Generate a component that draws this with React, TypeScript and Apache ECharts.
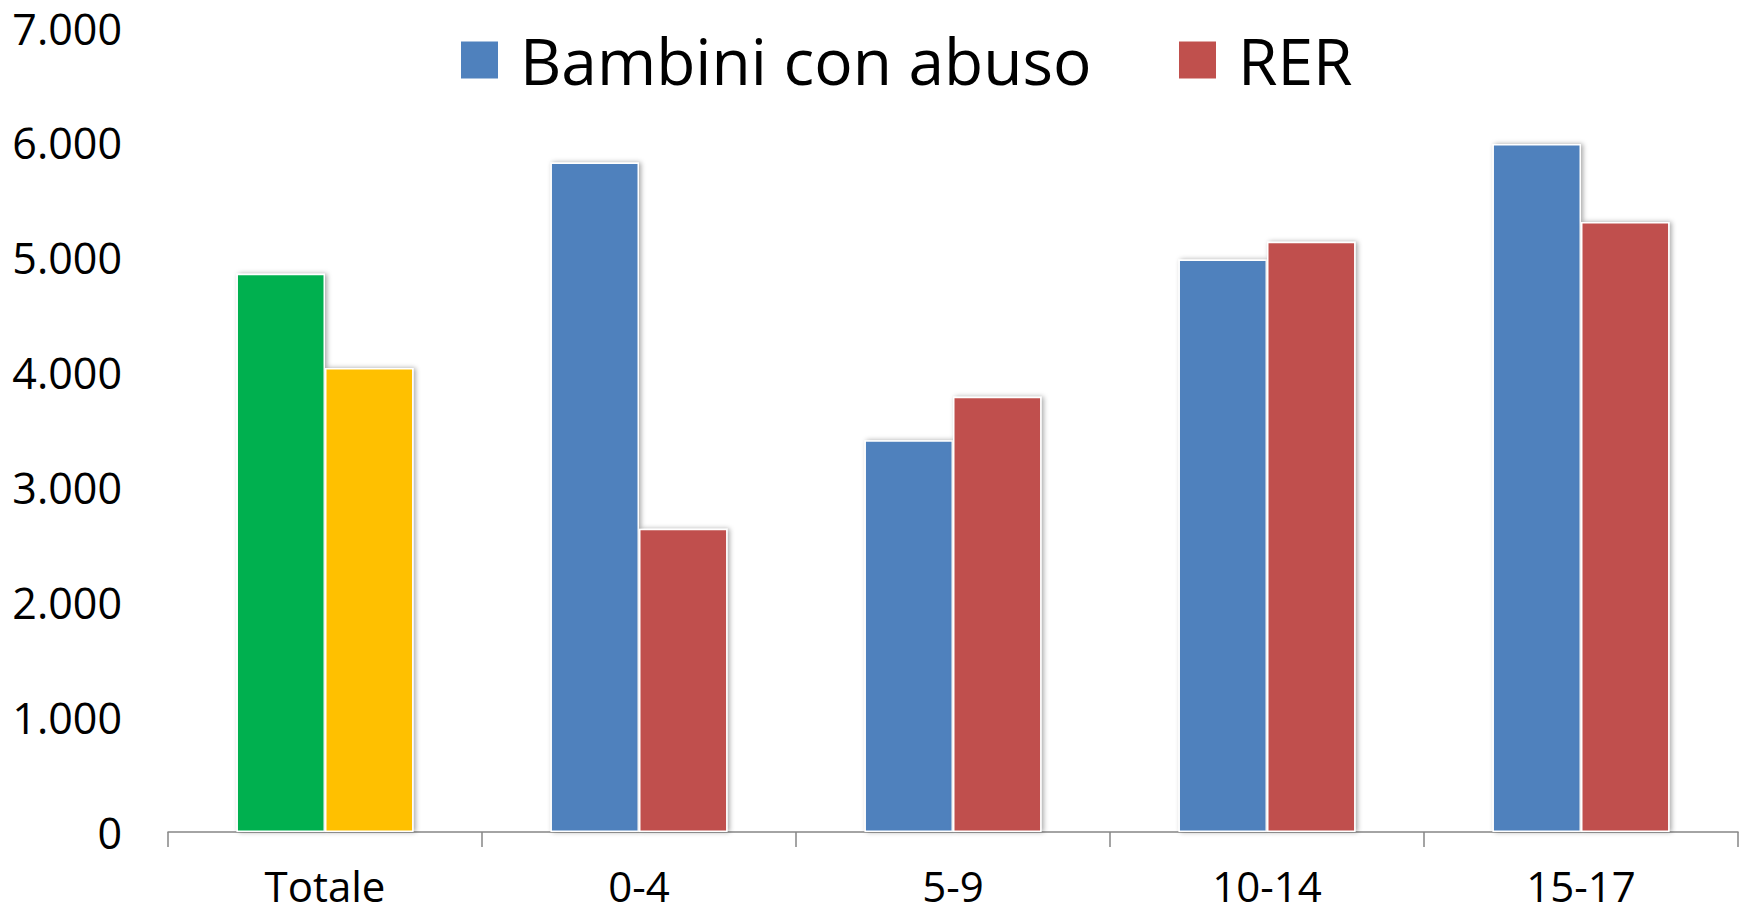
import React, { useEffect, useRef } from "react";
import * as echarts from "echarts";

const categories = ["Totale", "0-4", "5-9", "10-14", "15-17"];
const bambiniValues = [4860, 5830, 3410, 4985, 5990];
const rerValues = [4040, 2640, 3790, 5140, 5310];
const yTicks = [0, 1000, 2000, 3000, 4000, 5000, 6000, 7000];

const BLUE = "#4F81BD";
const RED = "#C0504D";
const GREEN = "#00B050";
const YELLOW = "#FFC000";
const FONT = "'Open Sans', sans-serif";

const fmt = (v: number) => String(v).replace(/\B(?=(\d{3})+(?!\d))/g, ".");

export default function App() {
  const ref = useRef<HTMLDivElement>(null);
  useEffect(() => {
    document.body.style.margin = "0";
    const chart = echarts.init(ref.current!, null, { renderer: "svg" });
    const barStyle = {
      borderColor: "#ffffff",
      borderWidth: 1.5,
      shadowBlur: 5,
      shadowColor: "rgba(0,0,0,0.35)",
      shadowOffsetX: 2,
      shadowOffsetY: 0,
    };
    const legendCommon = {
      top: 20,
      itemWidth: 39,
      itemHeight: 39,
      padding: 0,
      icon: "rect",
      selectedMode: false,
      textStyle: {
        fontSize: 64,
        lineHeight: 64,
        fontFamily: FONT,
        color: "#000",
        padding: [0, 0, 16, 16],
      },
    };
    chart.setOption({
      animation: false,
      backgroundColor: "#ffffff",
      legend: [
        { ...legendCommon, left: 459, data: ["Bambini con abuso"] },
        { ...legendCommon, left: 1177, data: ["RER"] },
      ],
      grid: { left: 168, right: 7, top: 28, bottom: 82, containLabel: false },
      xAxis: {
        type: "category",
        data: categories,
        axisLine: { show: true, lineStyle: { color: "#868686", width: 1.5 } },
        axisTick: {
          show: true,
          interval: 0,
          alignWithLabel: false,
          length: 15,
          lineStyle: { color: "#868686", width: 1.5 },
        },
        axisLabel: {
          fontSize: 42,
          lineHeight: 42,
          fontFamily: FONT,
          color: "#000",
          margin: 32,
        },
      },
      yAxis: {
        type: "value",
        min: yTicks[0],
        max: yTicks[yTicks.length - 1],
        interval: 1000,
        axisLine: { show: false },
        axisTick: { show: false },
        splitLine: { show: false },
        axisLabel: {
          fontSize: 43,
          fontFamily: FONT,
          color: "#000",
          margin: 46,
          formatter: (v: number) => fmt(v),
        },
      },
      series: [
        {
          name: "Bambini con abuso",
          type: "bar",
          barGap: "0%",
          barCategoryGap: "43.6%",
          itemStyle: { color: BLUE, ...barStyle },
          data: bambiniValues.map((v, i) =>
            i === 0 ? { value: v, itemStyle: { color: GREEN } } : v
          ),
        },
        {
          name: "RER",
          type: "bar",
          barGap: "0%",
          barCategoryGap: "43.6%",
          itemStyle: { color: RED, ...barStyle },
          data: rerValues.map((v, i) =>
            i === 0 ? { value: v, itemStyle: { color: YELLOW } } : v
          ),
        },
      ],
    });
    return () => chart.dispose();
  }, []);
  return (
    <div
      ref={ref}
      style={{ position: "absolute", left: 0, top: 0, width: 1745, height: 914 }}
    />
  );
}
